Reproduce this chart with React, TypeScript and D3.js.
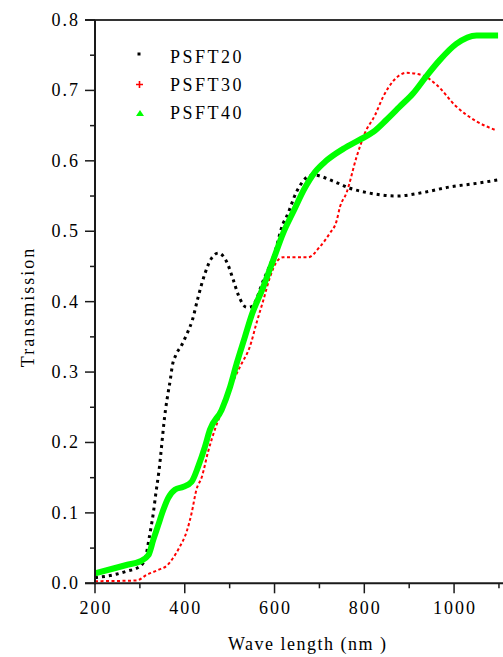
import { useMemo } from "react";
import * as d3 from "d3";

// values (wavelength in nm, transmission)
const psft20Wl = [200, 241, 270, 300, 313, 320, 325, 330, 335, 342, 357, 363, 368, 372, 380, 393, 404, 417, 430, 445, 460, 475, 493, 508, 519, 538, 549, 575, 601, 619, 627, 649, 675, 686, 731, 768, 805, 872, 931, 991, 1050, 1098];
const psft20T = [0.008, 0.012, 0.017, 0.024, 0.038, 0.062, 0.08, 0.1, 0.125, 0.157, 0.246, 0.271, 0.29, 0.308, 0.324, 0.338, 0.353, 0.374, 0.407, 0.44, 0.462, 0.469, 0.457, 0.431, 0.41, 0.392, 0.393, 0.43, 0.471, 0.511, 0.521, 0.556, 0.578, 0.58, 0.571, 0.561, 0.555, 0.55, 0.555, 0.563, 0.568, 0.573];

const psft30Wl = [200, 293, 315, 341, 360, 374, 389, 404, 415, 426, 438, 452, 469, 490, 510, 525, 545, 560, 575, 590, 605, 619, 650, 675, 701, 723, 738, 746, 760, 783, 801, 824, 842, 864, 894, 931, 961, 1005, 1050, 1091];
const psft30T = [0.003, 0.004, 0.012, 0.019, 0.025, 0.036, 0.052, 0.073, 0.099, 0.133, 0.151, 0.187, 0.222, 0.255, 0.29, 0.31, 0.336, 0.37, 0.402, 0.435, 0.457, 0.463, 0.463, 0.463, 0.478, 0.497, 0.514, 0.535, 0.554, 0.606, 0.639, 0.665, 0.691, 0.713, 0.725, 0.721, 0.708, 0.677, 0.656, 0.644];

const psft40Wl = [200, 241, 270, 300, 319, 330, 341, 352, 363, 378, 397, 415, 430, 445, 456, 482, 501, 516, 534, 548, 575, 597, 619, 642, 668, 690, 715, 753, 790, 820, 849, 879, 909, 938, 968, 1005, 1050, 1098];
const psft40T = [0.014, 0.021, 0.026, 0.031, 0.04, 0.062, 0.083, 0.104, 0.121, 0.133, 0.137, 0.144, 0.166, 0.194, 0.218, 0.246, 0.279, 0.313, 0.35, 0.379, 0.421, 0.459, 0.497, 0.528, 0.562, 0.584, 0.6, 0.617, 0.63, 0.641, 0.658, 0.677, 0.696, 0.72, 0.743, 0.766, 0.778, 0.778];

const seriesNames = ["PSFT20", "PSFT30", "PSFT40"];
const xTickLabels = ["200", "400", "600", "800", "1000"];
const yTickLabels = ["0.0", "0.1", "0.2", "0.3", "0.4", "0.5", "0.6", "0.7", "0.8"];

const W = 503;
const H = 657;
const FONT = "'Liberation Serif', 'Times New Roman', serif";

type Pt = { wl: number; t: number };
const zip = (wl: number[], t: number[]): Pt[] => wl.map((w, i) => ({ wl: w, t: t[i] }));

export default function App() {
  const x = useMemo(() => d3.scaleLinear().domain([200, 1109]).range([95, 503]), []);
  const y = useMemo(() => d3.scaleLinear().domain([0, 0.8]).range([583.3, 20]), []);

  const line = d3
    .line<Pt>()
    .x((d) => x(d.wl))
    .y((d) => y(d.t))
    .curve(d3.curveMonotoneX);

  const series = [
    { name: seriesNames[0], data: zip(psft20Wl, psft20T), color: "#000000", width: 3, dash: "3 4" },
    { name: seriesNames[1], data: zip(psft30Wl, psft30T), color: "#ff0000", width: 2, dash: "3 2.5" },
    { name: seriesNames[2], data: zip(psft40Wl, psft40T), color: "#00ff00", width: 6, dash: undefined },
  ];

  const xMinor = d3.range(200, 1101, 100);
  const yMinor = d3.range(0, 0.801, 0.05);
  const axisColor = "#1a1a1a";

  return (
    <svg
      width={W}
      height={H}
      style={{ position: "absolute", left: 0, top: 0, background: "#fff" }}
      fontFamily={FONT}
    >
      <defs>
        <clipPath id="plot">
          <rect x={95} y={18} width={W - 95} height={568} />
        </clipPath>
      </defs>

      {/* curves */}
      <g clipPath="url(#plot)">
        {series.map((s) => (
          <path
            key={s.name}
            d={line(s.data) ?? ""}
            fill="none"
            stroke={s.color}
            strokeWidth={s.width}
            strokeDasharray={s.dash}
            strokeLinejoin="round"
          />
        ))}
      </g>

      {/* frame top */}
      <line x1={85} x2={W} y1={y(0.8)} y2={y(0.8)} stroke="#333" strokeWidth={2} />

      {/* y axis */}
      <line x1={x(200)} x2={x(200)} y1={y(0.8)} y2={y(0) + 1} stroke={axisColor} strokeWidth={2} />
      {yMinor.map((v, i) => (
        <line
          key={"ym" + i}
          x1={x(200) - (i % 2 === 0 ? 10 : 5)}
          x2={x(200)}
          y1={y(v)}
          y2={y(v)}
          stroke={axisColor}
          strokeWidth={1.5}
        />
      ))}
      {yTickLabels.map((lab) => (
        <text
          key={"yl" + lab}
          x={80}
          y={y(+lab) + 6}
          textAnchor="end"
          fontSize={18}
          letterSpacing={2}
          fill="#000"
        >
          {lab}
        </text>
      ))}

      {/* x axis */}
      <line x1={85} x2={W} y1={y(0)} y2={y(0)} stroke={axisColor} strokeWidth={2} />
      {xMinor.map((v, i) => (
        <line
          key={"xm" + i}
          x1={x(v)}
          x2={x(v)}
          y1={y(0)}
          y2={y(0) + (i % 2 === 0 ? 10 : 5)}
          stroke={axisColor}
          strokeWidth={1.5}
        />
      ))}
      {xTickLabels.map((lab) => (
        <text
          key={"xl" + lab}
          x={x(+lab) + 1}
          y={614}
          textAnchor="middle"
          fontSize={18}
          letterSpacing={2}
          fill="#000"
        >
          {lab}
        </text>
      ))}

      {/* axis titles */}
      <text
        transform="translate(34,307) rotate(-90)"
        textAnchor="middle"
        fontSize={18}
        letterSpacing={2}
        fill="#000"
      >
        Transmission
      </text>
      <text x={228} y={650} fontSize={18} letterSpacing={1.5} fill="#000">
        Wave length (nm )
      </text>

      {/* legend */}
      <rect x={137.5} y={52.5} width={3} height={3} fill="#000" />
      <path d="M136,84.5h7M139.5,81v7" stroke="#ff0000" strokeWidth={1.6} />
      <path d="M136,116L140,110L144,116Z" fill="#00ff00" />
      {seriesNames.map((n, i) => (
        <text key={n} x={170} y={63 + i * 28} fontSize={18} letterSpacing={2.5} fill="#000">
          {n}
        </text>
      ))}
    </svg>
  );
}
